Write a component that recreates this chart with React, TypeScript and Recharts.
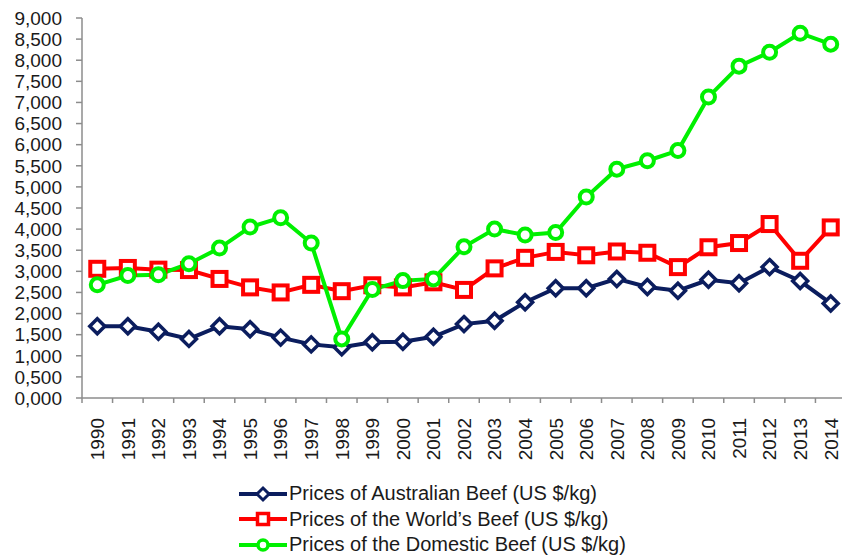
import React from "react";
import { LineChart, Line, XAxis, YAxis } from "recharts";

const years = [1990, 1991, 1992, 1993, 1994, 1995, 1996, 1997, 1998, 1999, 2000, 2001, 2002, 2003, 2004, 2005, 2006, 2007, 2008, 2009, 2010, 2011, 2012, 2013, 2014];
const australian = [1700, 1700, 1570, 1400, 1700, 1630, 1430, 1270, 1200, 1320, 1330, 1450, 1750, 1830, 2270, 2600, 2600, 2820, 2630, 2540, 2800, 2720, 3100, 2770, 2240];
const world = [3060, 3080, 3040, 3030, 2820, 2620, 2500, 2680, 2530, 2670, 2620, 2740, 2560, 3070, 3320, 3460, 3380, 3470, 3440, 3100, 3570, 3670, 4120, 3250, 4040];
const domestic = [2680, 2900, 2920, 3180, 3550, 4050, 4270, 3670, 1400, 2570, 2780, 2820, 3580, 4000, 3860, 3920, 4760, 5420, 5620, 5860, 7130, 7860, 8190, 8640, 8380];
const yTicks = [0, 500, 1000, 1500, 2000, 2500, 3000, 3500, 4000, 4500, 5000, 5500, 6000, 6500, 7000, 7500, 8000, 8500, 9000];
const seriesNames = [
  "Prices of Australian Beef (US $/kg)",
  "Prices of the World\u2019s Beef (US $/kg)",
  "Prices of the Domestic Beef (US $/kg)",
];

const data = years.map((y, i) => ({ year: y, aus: australian[i], world: world[i], dom: domestic[i] }));

const NAVY = "#0b1d5e";
const RED = "#ff0000";
const GREEN = "#00f000";
const AXIS = "#8c8c8c";
const FONT = "'Liberation Sans', Arial, sans-serif";

const CHART_W = 846;
const CHART_H = 556;
const Y_W = 82;
const M_RIGHT = 0;
const BAND = (CHART_W - Y_W - M_RIGHT) / years.length;

const fmt = (v: number) => {
  const th = Math.floor(v / 1000);
  const rest = String(v % 1000).padStart(3, "0");
  return `${th},${rest}`;
};

const Diamond = (props: any) => {
  const { cx, cy, stroke, dr = 7.5, sw = 3.5 } = props;
  if (cx == null || cy == null) return null;
  return (
    <polygon
      points={`${cx},${cy - dr} ${cx + dr},${cy} ${cx},${cy + dr} ${cx - dr},${cy}`}
      fill="#fff"
      stroke={stroke || NAVY}
      strokeWidth={sw}
    />
  );
};
const Square = (props: any) => {
  const { cx, cy, stroke, s = 7, sw = 4 } = props;
  if (cx == null || cy == null) return null;
  return <rect x={cx - s} y={cy - s} width={2 * s} height={2 * s} fill="#fff" stroke={stroke || RED} strokeWidth={sw} />;
};
const Circ = (props: any) => {
  const { cx, cy, stroke, cr = 6.5, sw = 4 } = props;
  if (cx == null || cy == null) return null;
  return <circle cx={cx} cy={cy} r={cr} fill="#fff" stroke={stroke || GREEN} strokeWidth={sw} />;
};

const XTick = (props: any) => {
  const { x, y, payload, index } = props;
  const h = BAND / 2;
  const ty = y + 20;
  const last = index === years.length - 1;
  return (
    <g>
      <line x1={x - h} y1={y} x2={x - h} y2={y + 5} stroke={AXIS} strokeWidth={1.5} />
      {last && <line x1={x + h} y1={y} x2={x + h} y2={y + 5} stroke={AXIS} strokeWidth={1.5} />}
      <text
        x={x}
        y={ty}
        transform={`rotate(-90, ${x}, ${ty})`}
        textAnchor="end"
        dy="0.36em"
        fontSize={19}
        fontFamily={FONT}
        fill="#1a1a1a"
      >
        {payload.value}
      </text>
    </g>
  );
};

const legendItems = [
  { name: seriesNames[0], color: NAVY, M: Diamond, mp: { dr: 6, sw: 3 } },
  { name: seriesNames[1], color: RED, M: Square, mp: { s: 5.5, sw: 3.5 } },
  { name: seriesNames[2], color: GREEN, M: Circ, mp: { cr: 5, sw: 3.5 } },
];

const ChartLegend = () => (
  <div style={{ position: "absolute", left: 238, top: 481, fontFamily: FONT }}>
    {legendItems.map((it) => (
      <div key={it.name} style={{ display: "flex", alignItems: "center", height: 25.5 }}>
        <svg width={50} height={24} style={{ display: "block" }}>
          <line x1={1} y1={12} x2={49} y2={12} stroke={it.color} strokeWidth={4} />
          <it.M cx={25} cy={12} stroke={it.color} {...it.mp} />
        </svg>
        <span style={{ fontSize: 20, color: "#1a1a1a", marginLeft: 1, whiteSpace: "nowrap" }}>{it.name}</span>
      </div>
    ))}
  </div>
);

export default function App() {
  return (
    <div style={{ position: "absolute", left: 0, top: 0, width: 842, height: 556, overflow: "hidden", background: "#fff" }}>
      <LineChart width={CHART_W} height={CHART_H} data={data} margin={{ top: 18, right: M_RIGHT, left: 0, bottom: 0 }}>
        <XAxis
          dataKey="year"
          type="number"
          domain={[years[0] - 0.5, years[years.length - 1] + 0.5]}
          ticks={years}
          interval={0}
          allowDataOverflow
          height={158}
          tickSize={0}
          tickMargin={0}
          tickLine={false}
          axisLine={{ stroke: AXIS, strokeWidth: 1.5 }}
          tick={<XTick />}
        />
        <YAxis
          width={Y_W}
          domain={[0, 9000]}
          ticks={yTicks}
          interval={0}
          tickFormatter={fmt}
          tickSize={6}
          tickMargin={14}
          axisLine={{ stroke: AXIS, strokeWidth: 1.5 }}
          tickLine={{ stroke: AXIS, strokeWidth: 1.5 }}
          tick={{ fontSize: 19, fontFamily: FONT, fill: "#1a1a1a" }}
        />
        <Line dataKey="aus" name={seriesNames[0]} stroke={NAVY} strokeWidth={4} dot={<Diamond />} activeDot={false} isAnimationActive={false} />
        <Line dataKey="world" name={seriesNames[1]} stroke={RED} strokeWidth={4} dot={<Square />} activeDot={false} isAnimationActive={false} />
        <Line dataKey="dom" name={seriesNames[2]} stroke={GREEN} strokeWidth={4} dot={<Circ />} activeDot={false} isAnimationActive={false} />
      </LineChart>
      <ChartLegend />
    </div>
  );
}
